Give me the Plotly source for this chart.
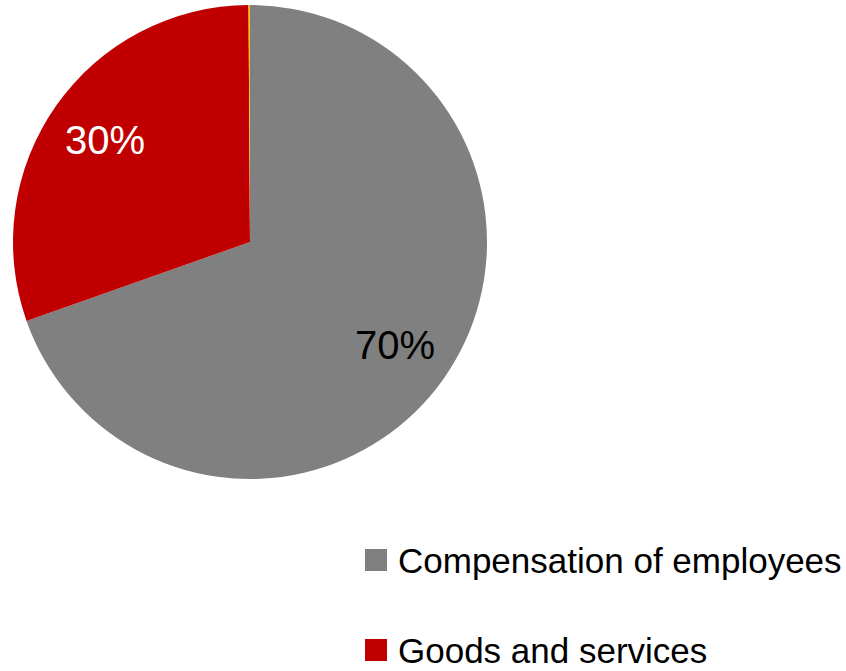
import math
import plotly.graph_objects as go

# Shares of spending (percent)
categories = ["Compensation of employees", "Goods and services", "Other"]
shares = [69.6, 30.3, 0.1]
slice_colors = ["#808080", "#C00000", "#FFC000"]
label_colors = ["#000000", "#FFFFFF", "#000000"]

W, H = 846, 671
PIE_X = (13, 487)   # pie box in pixels
PIE_Y = (5, 479)
total = sum(shares)

fig = go.Figure()
fig.add_trace(go.Pie(
    labels=categories,
    values=shares,
    textinfo="none",
    marker=dict(colors=slice_colors, line=dict(width=0)),
    sort=False,
    direction="clockwise",
    rotation=0,
    showlegend=False,
    hoverinfo="label+percent",
    domain=dict(x=[PIE_X[0] / W, PIE_X[1] / W], y=[1 - PIE_Y[1] / H, 1 - PIE_Y[0] / H]),
))

# Percentage labels placed at 3/4 of the radius along each slice's mid angle
cx = (PIE_X[0] + PIE_X[1]) / 2
cy = (PIE_Y[0] + PIE_Y[1]) / 2
R = (PIE_X[1] - PIE_X[0]) / 2
label_font = "Liberation Sans, Arial, sans-serif"
start = 0.0
for v, col in zip(shares, label_colors):
    frac = v / total
    mid = (start + frac / 2) * 2 * math.pi
    start += frac
    if frac < 0.01:
        continue
    px = cx + 0.75 * R * math.sin(mid)
    py = cy - 0.75 * R * math.cos(mid)
    fig.add_annotation(text=f"{round(frac * 100)}%", xref="paper", yref="paper",
                       x=px / W, y=1 - py / H, xanchor="center", yanchor="middle",
                       showarrow=False, font=dict(family=label_font, size=40, color=col))

# Legend: colour key squares with category names (first two categories)
legend_font = dict(family="Liberation Sans, Arial, sans-serif", size=35, color="#000000")
legend_rows = [560, 650]
for name, color, yc in zip(categories[:2], slice_colors[:2], legend_rows):
    fig.add_shape(type="rect", xref="paper", yref="paper",
                  x0=365 / W, x1=387 / W, y0=1 - (yc + 11) / H, y1=1 - (yc - 11) / H,
                  fillcolor=color, line=dict(width=0))
    fig.add_annotation(text=name, xref="paper", yref="paper",
                       x=396 / W, y=1 - yc / H, xanchor="left", yanchor="middle",
                       showarrow=False, font=legend_font)

fig.update_layout(
    width=W, height=H,
    margin=dict(l=0, r=0, t=0, b=0),
    paper_bgcolor="#FFFFFF",
    plot_bgcolor="#FFFFFF",
)

fig.write_html("out.html")
